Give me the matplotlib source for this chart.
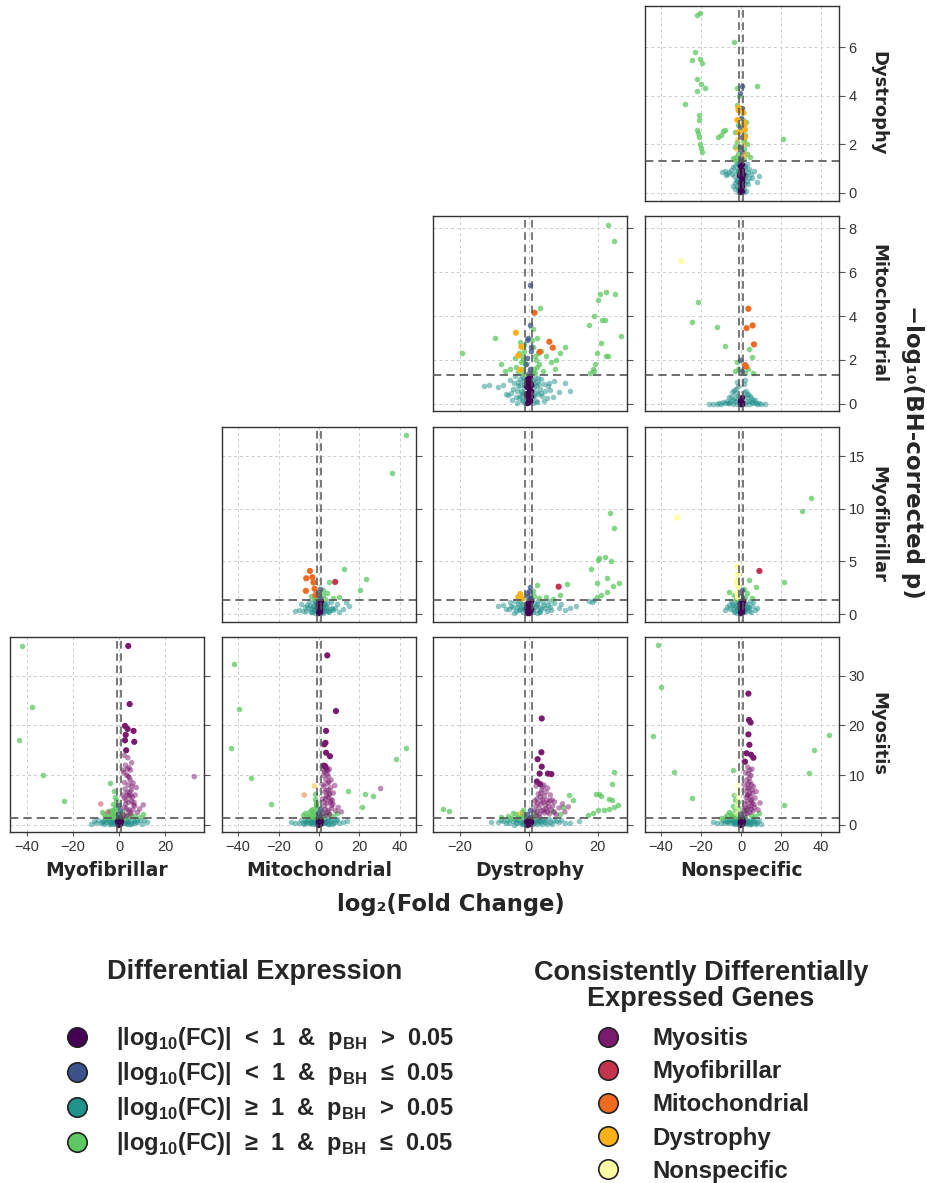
import numpy as np
import matplotlib
matplotlib.use('Agg')
import matplotlib.pyplot as plt
from matplotlib.lines import Line2D

W, H = 928, 1183

# significance / fold-change cut-offs
P_CUT = -np.log10(0.05)
FC_CUT = 1.0

row_names = ['Dystrophy', 'Mitochondrial', 'Myofibrillar', 'Myositis']
col_names = ['Myofibrillar', 'Mitochondrial', 'Dystrophy', 'Nonspecific']

de_labels = [
    r'|log$_\mathbf{10}$(FC)|  <  1  &  p$_\mathbf{BH}$  >  0.05',
    r'|log$_\mathbf{10}$(FC)|  <  1  &  p$_\mathbf{BH}$  ≤  0.05',
    r'|log$_\mathbf{10}$(FC)|  ≥  1  &  p$_\mathbf{BH}$  >  0.05',
    r'|log$_\mathbf{10}$(FC)|  ≥  1  &  p$_\mathbf{BH}$  ≤  0.05',
]
de_colors = ['#440154', '#3b528b', '#21918c', '#5ec962']

group_names = ['Myositis', 'Myofibrillar', 'Mitochondrial', 'Dystrophy', 'Nonspecific']
group_colors = ['#7b1b6f', '#c4344f', '#ef6b22', '#fbb21a', '#fcffa4']

# ---- genes per comparison: (log2 FC, -log10 p_BH) ----
dys_non = [
    (-0.5, 0.05), (0.3, 0.1), (-0.2, 0.2), (0.6, 0.3), (-0.7, 0.4), (0.1, 0.5), (0.4, 0.6), (-0.4, 0.7),
    (0.8, 0.8), (-0.1, 0.9), (0.2, 1.0), (-0.6, 1.1), (0.5, 1.2), (-0.3, 0.15), (0.0, 0.35), (0.7, 0.55),
    (-0.8, 0.75), (0.3, 0.95), (0.0, 0.25), (-0.2, 0.65), (0.1, 1.15), (0.5, 0.45), (-0.5, 0.85),
    (-2.5, 0.9), (2.1, 1.1), (-3.4, 0.7), (3.0, 0.5), (-1.8, 0.3), (1.6, 0.2), (-4.5, 0.8), (4.2, 1.0),
    (-6.0, 0.85), (5.5, 0.6), (-7.5, 0.75), (8.2, 0.45), (-2.2, 1.25), (2.8, 1.2), (-3.8, 1.05), (3.6, 0.35),
    (-5.2, 0.95), (6.3, 0.9), (-1.4, 0.6), (1.3, 0.8), (-9.5, 0.85), (9.0, 0.7), (-2.9, 0.15), (2.4, 0.1),
    (-1.2, 1.15), (1.9, 0.4), (-8.0, 0.9), (-6.8, 0.8), (-1.6, 0.05), (1.5, 0.02), (-1.3, 0.95),
    (1.4, 1.05), (-2.0, 0.5), (2.2, 0.7), (-1.5, 1.25), (1.7, 0.6), (-3.0, 0.4), (3.3, 0.85),
    (-1.1, 0.45), (1.1, 0.65), (-1.7, 0.85), (1.8, 1.0), (-2.4, 0.55), (2.5, 0.75), (-3.1, 1.1),
    (3.8, 0.6), (-4.0, 0.3), (4.8, 0.8), (-1.3, 0.2), (1.2, 0.35),
    (0.2, 1.5), (-0.3, 1.9), (0.5, 2.3), (-0.6, 2.7), (0.1, 3.1), (0.4, 3.5), (-0.2, 1.4), (0.7, 1.7),
    (-0.5, 4.1), (0.3, 4.4),
    (-1.5, 1.6), (1.5, 1.8), (-2.0, 2.1), (2.2, 2.4), (-1.3, 2.8), (1.2, 3.0), (-2.5, 1.5), (2.8, 1.6),
    (-1.8, 3.6), (1.6, 2.2), (-3.0, 1.9), (3.2, 2.0), (-2.2, 4.3), (-4.0, 1.45), (4.5, 1.5), (-1.1, 4.0),
    (1.4, 1.4), (-1.6, 2.5), (-3.2, 2.5), (-2.8, 1.35), (2.6, 2.9), (-1.2, 1.9), (1.3, 2.1),
    (-22, 7.3), (-20.5, 7.4), (-23, 5.8), (-24.5, 5.45), (-20.5, 5.5), (-19.5, 5.35), (-22, 4.7),
    (-20, 4.5), (-22, 4.2), (-18, 4.3), (-28, 3.65), (-21, 3.2), (-21, 3.0), (-22, 2.6), (-21.5, 2.45),
    (-21, 2.3), (-20.5, 2.0), (-20, 1.85), (-19.5, 1.7), (-11.5, 2.3), (-10, 2.4), (-9, 2.55), (-8, 2.6),
    (-3.5, 6.2), (8, 4.4), (21, 2.2),
]
dys_non_hits = [
    (1.5, 2.9, 'Dystrophy'), (2.0, 2.6, 'Dystrophy'), (-1.2, 3.4, 'Dystrophy'), (-1.8, 3.0, 'Dystrophy'),
    (1.8, 2.0, 'Dystrophy'), (2.3, 1.6, 'Dystrophy'), (-1.5, 2.2, 'Dystrophy'), (1.2, 3.3, 'Dystrophy'),
    (-2.0, 1.8, 'Dystrophy'), (2.0, 2.3, 'Dystrophy'), (-1.1, 2.5, 'Dystrophy'), (1.3, 1.5, 'Dystrophy'),
    (1.6, 2.8, 'Dystrophy'), (-1.3, 3.5, 'Dystrophy'),
]

mit_dys = [
    (-0.5, 0.05), (0.3, 0.15), (-0.2, 0.25), (0.6, 0.35), (-0.7, 0.45), (0.1, 0.55), (0.4, 0.65), (-0.4, 0.75),
    (0.8, 0.85), (-0.1, 0.95), (0.2, 1.05), (-0.6, 1.15), (0.5, 1.25), (-0.3, 0.2), (0.0, 0.4), (0.7, 0.6),
    (-0.8, 0.8), (0.3, 1.0), (0.0, 0.1), (-0.2, 1.2), (-0.6, 0.5), (0.6, 0.9), (-0.1, 0.3), (0.2, 0.7),
    (-0.4, 1.0), (0.4, 0.2),
    (-1.5, 0.2), (1.4, 0.4), (-2.2, 0.6), (2.0, 0.8), (-3.0, 1.0), (2.8, 1.2), (-3.8, 0.3), (3.6, 0.5),
    (-4.5, 0.7), (4.4, 0.9), (-5.5, 1.1), (5.2, 0.25), (-6.5, 0.45), (6.2, 0.65), (-7.5, 0.85), (7.4, 1.05),
    (-9.0, 0.75), (8.8, 0.55), (-11.5, 0.85), (10.5, 0.95), (-2.6, 1.15), (2.5, 0.1), (-1.8, 0.15), (1.7, 0.35),
    (-3.4, 0.05), (3.2, 0.7), (-4.0, 1.25), (4.8, 0.6), (-6.0, 0.4), (7.0, 0.3), (-13.0, 0.8), (12.0, 0.6),
    (-1.2, 0.9), (1.2, 1.1), (-2.0, 1.25), (2.3, 1.0), (-1.6, 0.55), (1.6, 0.75), (-2.4, 0.35),
    (2.1, 0.15), (-3.2, 0.8), (3.5, 1.15), (-1.3, 1.2), (1.3, 0.05), (-4.8, 0.2), (5.8, 0.95),
    (-1.1, 0.3), (1.1, 0.6), (-1.4, 0.75), (1.5, 0.95), (-2.0, 0.45), (2.2, 0.55), (-2.7, 0.25),
    (2.9, 0.9), (-3.5, 0.6), (3.9, 0.35), (-4.2, 0.95), (4.6, 0.15), (-5.0, 0.5), (5.6, 0.8),
    (-1.7, 1.05), (1.9, 1.2), (-2.4, 0.85), (2.6, 0.45), (-1.0, 0.05), (1.0, 0.25),
    (0.3, 1.6), (-0.4, 2.1), (0.6, 2.6), (-0.2, 3.0), (0.5, 5.4), (0.1, 1.4), (-0.7, 1.8), (0.8, 2.4),
    (0.4, 3.6), (-0.5, 2.9),
    (-1.5, 1.5), (1.6, 1.6), (-2.2, 1.9), (2.1, 2.0), (-3.0, 1.45), (3.0, 1.8), (-1.3, 2.4), (1.4, 2.6),
    (-4.0, 2.1), (4.2, 1.5), (-5.5, 1.6), (5.0, 2.2), (-2.6, 2.8), (2.3, 3.0), (1.2, 3.4), (-1.1, 1.8),
    (6.5, 1.9), (-6.8, 1.5), (8.0, 2.0), (10.4, 2.6), (3.2, 4.35), (7.5, 1.6), (9.0, 2.3), (-8.0, 1.8),
    (-9.6, 3.0), (-19.2, 2.33), (-1.8, 2.2), (1.9, 1.4), (2.6, 2.3), (-3.6, 1.7),
    (-1.2, 1.35), (1.3, 1.45), (-2.0, 1.6), (2.4, 1.7), (-1.6, 2.0), (1.8, 2.2), (-2.9, 2.3), (3.5, 2.4),
    (-1.4, 2.7), (1.1, 2.9),
    (23.1, 8.14), (24.6, 7.4), (22.4, 5.1), (20.7, 4.98), (25.1, 4.98), (20.0, 4.72), (19.0, 4.0),
    (17.4, 3.6), (21.4, 3.8), (22.1, 3.8), (26.8, 3.09), (20.9, 2.79), (19.95, 2.3), (22.4, 2.16),
    (23.1, 2.2), (19.3, 1.8), (18.6, 1.6), (17.8, 1.39), (18.9, 1.5),
]
mit_dys_hits = [
    (-3.7, 3.24, 'Dystrophy'), (-2.1, 2.6, 'Dystrophy'), (-3.0, 2.2, 'Dystrophy'), (-2.4, 1.55, 'Dystrophy'),
    (1.7, 4.15, 'Mitochondrial'), (6.0, 2.83, 'Mitochondrial'), (7.0, 2.56, 'Mitochondrial'),
    (3.2, 2.37, 'Mitochondrial'),
]

mit_non = [
    (-0.5, 0.0), (0.3, 0.02), (-0.2, 0.05), (0.6, 0.1), (0.0, 0.15), (-0.7, 0.2), (0.4, 0.3), (0.1, 0.0),
    (-0.3, 0.08),
    (-14, 0.0), (-12, 0.02), (-10, 0.0), (-8, 0.05), (-6, 0.03), (-4, 0.0), (-2, 0.02), (2, 0.01), (4, 0.0),
    (6, 0.03), (8, 0.02), (10, 0.0), (12, 0.01), (-5, 0.3), (-3, 0.5), (3, 0.4), (5, 0.25), (-7, 0.15),
    (7, 0.2), (-2.5, 0.7), (2.5, 0.6), (-4.5, 0.55), (4.5, 0.35), (-9, 0.1), (-1.5, 0.8), (1.5, 0.9),
    (-3.5, 0.65), (3.5, 0.45), (-6, 0.3), (6, 0.2), (-1.2, 0.1), (1.2, 0.05), (-16, 0.01), (-2, 1.0),
    (2, 1.1), (-3, 0.25), (1.8, 0.3), (-11, 0.05), (9, 0.04), (-5.5, 0.1), (5.5, 0.08), (-2.8, 0.12),
    (2.8, 0.15), (-1.6, 0.35), (1.4, 0.55), (-4.0, 0.2), (3.8, 0.12), (-6.5, 0.06), (7.5, 0.05),
    (-21.3, 4.65), (-24.7, 3.74), (-11.8, 3.5), (-8.2, 2.65), (-2.0, 1.9), (5.3, 2.15), (6.2, 1.4),
    (-3, 1.5), (3.5, 1.6), (4.2, 2.5), (-1.5, 1.6), (2.2, 1.4),
    (0.3, 1.5), (-0.4, 2.0),
]
mit_non_hits = [
    (-29.7, 6.5, 'Nonspecific'),
    (3.7, 4.33, 'Mitochondrial'), (2.8, 3.45, 'Mitochondrial'), (5.8, 3.57, 'Mitochondrial'),
    (6.5, 2.71, 'Mitochondrial'), (2.0, 1.77, 'Mitochondrial'), (2.6, 1.7, 'Mitochondrial'),
]

myf_mit = [
    (-0.5, 0.05), (0.3, 0.15), (-0.2, 0.3), (0.6, 0.45), (-0.7, 0.6), (0.1, 0.75), (0.4, 0.9), (-0.4, 1.05),
    (0.8, 1.2), (-0.1, 0.2), (0.2, 0.5), (-0.6, 0.8), (0.5, 1.1), (0.0, 0.4), (-0.3, 0.95),
    (-2, 0.1), (2, 0.3), (-4, 0.5), (4, 0.7), (-6, 0.9), (6, 1.1), (-8, 0.3), (8, 0.6), (-10, 0.4),
    (10, 0.2), (-3, 0.8), (3, 1.0), (-5, 1.2), (5, 0.15), (-1.5, 0.6), (1.5, 0.9), (-7, 0.7), (7, 0.35),
    (12, 0.5), (15, 0.8), (-12, 0.25), (-2.5, 1.2), (2.5, 0.45), (-3.5, 0.2), (3.5, 0.55), (13.4, 1.1),
    (9, 1.0), (-9, 0.95), (1.2, 1.25), (-1.2, 0.35), (-4.5, 0.9), (4.5, 0.3), (-2.2, 0.5), (2.2, 0.75),
    (-6.5, 0.3), (6.5, 0.6), (-1.8, 1.1), (1.8, 0.1),
    (-1.1, 0.3), (1.1, 0.55), (-1.6, 0.85), (1.7, 0.7), (-2.3, 0.4), (2.4, 0.95), (-3.2, 0.65),
    (3.3, 0.25), (-4.2, 0.15), (4.1, 1.05), (-5.5, 0.55), (5.8, 0.45), (-1.3, 1.1), (1.4, 0.15),
    (0.3, 1.5), (-0.4, 1.9), (0.5, 2.4),
    (42.9, 17.0), (36.2, 13.4), (12.3, 4.3), (23.4, 3.3), (20.3, 2.25), (5.1, 3.0), (-1.5, 1.6),
    (1.8, 1.8), (-2.5, 1.5), (3.0, 1.45), (-1.2, 2.0), (2.2, 2.3), (7.0, 1.5), (-4.0, 1.7), (10, 1.6),
    (4, 2.0),
]
myf_mit_hits = [
    (8.0, 3.05, 'Myofibrillar'),
    (-4.5, 4.1, 'Mitochondrial'), (-6.3, 3.4, 'Mitochondrial'), (-3.3, 3.5, 'Mitochondrial'),
    (-6.5, 2.2, 'Mitochondrial'), (-2.7, 3.0, 'Mitochondrial'), (-2.2, 2.4, 'Mitochondrial'),
    (-1.8, 1.8, 'Mitochondrial'),
]

myf_dys = [
    (-0.5, 0.05), (0.3, 0.15), (-0.2, 0.3), (0.6, 0.45), (-0.7, 0.6), (0.1, 0.75), (0.4, 0.9), (-0.4, 1.05),
    (0.8, 1.2), (-0.1, 0.2), (0.2, 0.5), (-0.6, 0.8), (0.5, 1.1), (0.0, 0.4), (-0.3, 0.95), (0.2, 0.1),
    (-1.5, 0.2), (1.4, 0.4), (-2.2, 0.6), (2.0, 0.8), (-3.0, 1.0), (2.8, 1.2), (-3.8, 0.3), (3.6, 0.5),
    (-4.5, 0.7), (4.4, 0.9), (-5.5, 1.1), (5.2, 0.25), (-6.5, 0.45), (6.2, 0.65), (-7.5, 0.85), (7.4, 1.05),
    (-9.0, 0.75), (8.8, 0.55), (10.5, 0.35), (12.0, 0.6), (13.8, 0.8), (-2.6, 1.15), (2.5, 0.1),
    (-1.8, 0.95), (1.7, 1.05), (3.2, 0.7), (-4.0, 1.25), (4.8, 0.6), (9.5, 1.0), (6.0, 1.2),
    (-1.3, 0.5), (1.3, 0.2), (-2.9, 0.4), (3.0, 0.3), (-5.0, 0.8), (5.5, 0.9),
    (-1.1, 0.35), (1.1, 0.6), (-1.6, 0.8), (1.8, 0.65), (-2.4, 0.45), (2.3, 1.0), (-3.3, 0.7),
    (3.4, 0.2), (-4.1, 0.1), (4.2, 1.1), (-5.8, 0.5), (6.5, 0.4),
    (0.3, 1.5), (-0.4, 2.0), (0.5, 2.6), (-0.2, 1.7), (0.6, 1.4), (0.2, 2.2),
    (2.5, 2.8), (11.1, 2.9), (9.1, 1.8), (-1.5, 1.5), (1.6, 1.7), (-2.5, 1.4), (3.0, 1.5), (1.3, 2.2),
    (5, 1.6), (7, 1.4),
    (23.7, 9.6), (24.6, 8.2), (20.4, 5.3), (22.0, 5.4), (20.1, 5.1), (23.9, 5.0), (18.0, 4.25),
    (22.6, 3.4), (19.7, 2.95), (26.1, 2.95), (24.3, 2.7), (22.8, 2.1), (21.0, 1.85), (19.7, 1.6),
    (19.0, 1.3), (18.4, 1.15), (17.5, 1.2),
]
myf_dys_hits = [
    (8.7, 2.6, 'Myofibrillar'),
    (-2.4, 1.9, 'Dystrophy'), (-3.0, 1.6, 'Dystrophy'), (-2.0, 1.5, 'Dystrophy'),
]

myf_non = [
    (-0.5, 0.05), (0.3, 0.15), (-0.2, 0.3), (0.6, 0.45), (-0.7, 0.6), (0.1, 0.75), (0.4, 0.9), (-0.4, 1.05),
    (0.8, 1.2), (-0.1, 0.2), (0.2, 0.5), (-0.6, 0.8), (0.5, 1.1), (0.0, 0.4), (-0.3, 0.95),
    (-2, 0.1), (2, 0.3), (-4, 0.5), (4, 0.7), (-6, 0.9), (6, 1.1), (-3, 0.8), (3, 1.0), (-5, 1.2),
    (5, 0.15), (-1.5, 0.6), (1.5, 0.9), (-7, 0.7), (7, 0.35), (-2.5, 1.2), (2.5, 0.45), (-3.5, 0.2),
    (3.5, 0.55), (8, 0.6), (-8, 0.4), (1.2, 1.25), (-1.2, 0.35), (-4.5, 1.0), (4.5, 1.2),
    (-1.8, 0.9), (1.8, 0.5), (-2.8, 0.3), (2.8, 0.7),
    (-1.1, 0.25), (1.1, 0.6), (-1.6, 1.1), (1.6, 0.2), (-2.2, 0.55), (2.2, 0.95), (-3.8, 0.85),
    (3.9, 0.3), (-5.5, 0.45), (5.6, 0.75),
    (0.3, 1.5), (-0.4, 1.9), (0.5, 2.3), (0.2, 1.7),
    (35.2, 11.05), (30.6, 9.8), (21.4, 3.0), (-6.2, 2.1), (4.1, 3.2), (7.6, 2.6), (2.0, 1.6), (-1.5, 1.5),
    (3.0, 2.0), (-2.5, 1.4), (1.4, 2.4), (-3.5, 1.8), (5.5, 1.5),
]
myf_non_hits = [
    (-32, 9.2, 'Nonspecific'), (-1.8, 4.5, 'Nonspecific'), (-1.6, 3.8, 'Nonspecific'),
    (-2.0, 3.2, 'Nonspecific'), (-1.4, 2.6, 'Nonspecific'), (-1.9, 2.0, 'Nonspecific'),
    (-1.5, 1.6, 'Nonspecific'), (-2.2, 2.9, 'Nonspecific'),
    (9.2, 4.1, 'Myofibrillar'),
]

myo_myf = [
    (-0.5, 0.05), (0.3, 0.2), (-0.2, 0.4), (0.6, 0.6), (-0.7, 0.8), (0.1, 1.0), (0.4, 1.2), (-0.4, 0.3),
    (0.8, 0.7), (0.0, 0.9), (-0.3, 1.1), (0.2, 0.5),
    (-2, 0.1), (2, 0.3), (-4, 0.5), (4, 0.7), (-6, 0.9), (6, 1.1), (-8, 0.3), (8, 0.6), (-10, 0.4),
    (10, 0.2), (-3, 0.8), (3, 1.0), (-5, 1.2), (5, 0.15), (-1.5, 0.6), (1.5, 0.9), (-7, 0.7), (7, 0.35),
    (12, 0.5), (-12, 0.25), (-2.5, 1.2), (2.5, 0.45), (-3.5, 0.2), (3.5, 0.55), (9, 1.0), (-9, 0.95),
    (1.2, 1.25), (-1.2, 0.35), (11, 0.9), (-11, 0.7), (-4.5, 1.0), (4.5, 0.25), (-6.5, 0.2), (6.5, 0.8),
    (-1.1, 0.3), (1.1, 0.55), (-1.6, 0.85), (1.7, 0.7), (-2.3, 0.4), (2.4, 0.95), (-3.2, 0.65),
    (3.3, 0.25), (-4.2, 0.15), (4.1, 1.05), (-5.5, 0.55), (5.8, 0.45), (-7.5, 0.5), (7.8, 0.9),
    (0.3, 1.6), (-0.4, 2.2), (0.5, 3.0), (-0.2, 4.0),
    (-42.1, 36.0), (-37.5, 23.7), (-43.3, 17.0), (-32.9, 10.0), (-23.8, 4.8), (-4.0, 8.5), (-2, 2),
    (-3, 3), (-1.5, 4), (-4, 1.8), (-5, 1.5), (-2.5, 2.8), (-1.3, 1.6), (-3.5, 2.4), (-6, 1.6), (2, 1.5),
    (5, 2), (7, 1.8), (9, 1.5), (-1.8, 5.5), (-1.2, 3.2), (-2.2, 6.8), (1.5, 2.5), (3.5, 1.7),
    (10.5, 2.2), (-7.5, 2.6), (-1.4, 1.8), (-2.2, 2.4), (-3.1, 1.5), (-1.8, 3.4), (-2.8, 4.2),
    (-4.5, 2.8), (1.8, 1.9), (2.6, 1.4), (-6.5, 2.1), (-1.2, 5.0),
]
myo_myf_hits = [
    (-7.9, 4.2, 'Myofibrillar'), (-4.8, 2.55, 'Myofibrillar'),
    (4.0, 36.0, 'Myositis'), (4.6, 24.3, 'Myositis'), (2.6, 19.9, 'Myositis'), (3.7, 19.3, 'Myositis'),
    (6.3, 18.9, 'Myositis'), (2.9, 18.1, 'Myositis'), (2.6, 17.0, 'Myositis'), (6.6, 16.7, 'Myositis'),
    (32.6, 9.7, 'Myositis'),
    (2.0, 2.0, 'Myositis'), (2.5, 3.5, 'Myositis'), (3.0, 5.0, 'Myositis'), (3.5, 6.5, 'Myositis'),
    (4.0, 8.0, 'Myositis'), (4.5, 9.5, 'Myositis'), (5.0, 11.0, 'Myositis'), (5.5, 12.5, 'Myositis'),
    (6.0, 3.0, 'Myositis'), (6.5, 4.5, 'Myositis'), (7.0, 6.0, 'Myositis'), (7.5, 7.5, 'Myositis'),
    (8.0, 2.5, 'Myositis'), (2.2, 14.0, 'Myositis'), (2.8, 12.0, 'Myositis'), (3.3, 10.0, 'Myositis'),
    (3.8, 13.5, 'Myositis'), (4.3, 11.5, 'Myositis'), (4.8, 9.0, 'Myositis'), (5.3, 7.0, 'Myositis'),
    (5.8, 5.5, 'Myositis'), (6.3, 4.0, 'Myositis'), (2.4, 8.5, 'Myositis'), (3.1, 15.0, 'Myositis'),
    (3.6, 6.0, 'Myositis'), (4.1, 4.5, 'Myositis'), (4.6, 3.0, 'Myositis'), (5.1, 2.2, 'Myositis'),
    (5.6, 7.8, 'Myositis'), (6.8, 3.8, 'Myositis'), (2.1, 10.5, 'Myositis'), (2.6, 7.2, 'Myositis'),
    (3.4, 1.8, 'Myositis'), (3.9, 9.8, 'Myositis'), (4.4, 5.8, 'Myositis'), (5.4, 4.8, 'Myositis'),
    (9.0, 3.2, 'Myositis'), (10.5, 4.0, 'Myositis'), (1.6, 6.0, 'Myositis'), (1.8, 11.0, 'Myositis'),
    (3.2, 3.2, 'Myositis'), (4.2, 2.6, 'Myositis'), (2.9, 4.2, 'Myositis'), (5.2, 5.9, 'Myositis'),
    (4.7, 6.6, 'Myositis'), (6.1, 8.4, 'Myositis'), (3.7, 11.2, 'Myositis'), (2.3, 5.4, 'Myositis'),
]

myo_mit = [
    (-0.5, 0.05), (0.3, 0.2), (-0.2, 0.4), (0.6, 0.6), (-0.7, 0.8), (0.1, 1.0), (0.4, 1.2), (-0.4, 0.3),
    (0.8, 0.7), (0.0, 0.9), (-0.3, 1.1), (0.2, 0.5),
    (-2, 0.2), (2, 0.4), (-4, 0.6), (4, 0.8), (-6, 1.0), (6, 1.2), (-8, 0.4), (8, 0.5), (-10, 0.3),
    (10, 0.3), (-3, 0.9), (3, 1.1), (-5, 1.2), (5, 0.2), (-1.5, 0.7), (1.5, 1.0), (-7, 0.8), (7, 0.45),
    (12, 0.6), (-12, 0.35), (-2.5, 1.25), (2.5, 0.55), (-3.5, 0.15), (3.5, 0.65), (9, 1.1), (-9, 0.9),
    (1.2, 1.2), (-1.2, 0.45), (14, 0.8), (-14, 0.6), (-4.5, 0.3), (4.5, 1.0), (-6.5, 0.6), (6.5, 0.15),
    (-1.1, 0.25), (1.1, 0.6), (-1.7, 0.95), (1.8, 0.35), (-2.4, 0.5), (2.3, 0.9), (-3.3, 0.55),
    (3.2, 0.3), (-4.1, 1.05), (4.3, 0.1), (-5.6, 0.45), (5.7, 0.75), (-7.6, 0.15), (8.2, 1.0),
    (0.3, 1.7), (-0.4, 2.4), (0.5, 3.2),
    (-41.9, 32.3), (-39.4, 23.3), (-43.7, 15.4), (-33.8, 9.5), (-23.8, 4.2), (43.1, 15.4), (38.0, 13.3),
    (26.9, 5.8), (22.6, 6.2), (21.4, 3.6), (14.5, 6.9),
    (-2, 2), (-3, 3.2), (-1.5, 4.5), (-4, 1.8), (-5, 1.5), (-2.5, 2.6), (-1.3, 1.6), (-3.5, 2.2),
    (-6, 1.7), (-8, 1.9), (2, 1.5), (5, 2.1), (7, 1.8), (-1.8, 5.2), (-1.2, 3.4), (1.6, 2.8), (9, 2.4),
    (-2.2, 6.2), (-1.4, 2.2), (-2.7, 1.5), (-3.8, 3.0), (-1.6, 3.9), (-4.8, 2.6), (2.4, 1.9),
    (-6.8, 2.4), (-1.3, 4.0),
]
myo_mit_hits = [
    (-7.3, 6.0, 'Mitochondrial'), (-2.3, 7.8, 'Dystrophy'),
    (4.1, 34.1, 'Myositis'), (8.4, 22.9, 'Myositis'), (3.5, 18.9, 'Myositis'), (3.2, 16.5, 'Myositis'),
    (2.6, 16.2, 'Myositis'), (3.5, 14.5, 'Myositis'), (5.4, 13.8, 'Myositis'), (2.4, 11.9, 'Myositis'),
    (30.5, 7.3, 'Myositis'),
    (2.1, 2.3, 'Myositis'), (2.7, 3.8, 'Myositis'), (3.2, 5.2, 'Myositis'), (3.6, 6.9, 'Myositis'),
    (4.2, 8.3, 'Myositis'), (4.7, 9.7, 'Myositis'), (5.1, 11.2, 'Myositis'), (3.0, 11.8, 'Myositis'),
    (6.2, 3.3, 'Myositis'), (6.6, 4.9, 'Myositis'), (7.1, 6.4, 'Myositis'), (7.8, 7.9, 'Myositis'),
    (8.3, 2.8, 'Myositis'), (2.4, 10.9, 'Myositis'), (2.9, 10.6, 'Myositis'), (3.4, 9.1, 'Myositis'),
    (3.9, 11.2, 'Myositis'), (4.4, 10.9, 'Myositis'), (4.9, 8.6, 'Myositis'), (5.4, 6.3, 'Myositis'),
    (5.9, 5.1, 'Myositis'), (6.4, 3.9, 'Myositis'), (2.5, 7.7, 'Myositis'), (3.3, 11.4, 'Myositis'),
    (3.7, 5.8, 'Myositis'), (4.1, 4.3, 'Myositis'), (4.6, 2.9, 'Myositis'), (5.2, 2.1, 'Myositis'),
    (5.7, 7.4, 'Myositis'), (6.9, 4.2, 'Myositis'), (2.2, 9.9, 'Myositis'), (2.8, 6.6, 'Myositis'),
    (3.5, 1.9, 'Myositis'), (4.0, 10.2, 'Myositis'), (4.5, 5.5, 'Myositis'), (5.5, 4.6, 'Myositis'),
    (9.5, 3.5, 'Myositis'), (11.0, 2.6, 'Myositis'), (1.7, 5.2, 'Myositis'), (1.9, 8.1, 'Myositis'),
    (3.1, 3.1, 'Myositis'), (4.3, 2.5, 'Myositis'), (2.6, 4.6, 'Myositis'), (5.0, 6.1, 'Myositis'),
    (4.8, 7.0, 'Myositis'), (6.0, 9.0, 'Myositis'), (3.8, 11.5, 'Myositis'),
]

myo_dys = [
    (-0.5, 0.05), (0.3, 0.2), (-0.2, 0.4), (0.6, 0.6), (-0.7, 0.8), (0.1, 1.0), (0.4, 1.2), (-0.4, 0.3),
    (0.8, 0.7), (0.0, 0.9), (-0.3, 1.1), (0.2, 0.5),
    (-1.5, 0.2), (1.4, 0.4), (-2.2, 0.6), (2.0, 0.8), (-3.0, 1.0), (2.8, 1.2), (-3.8, 0.3), (3.6, 0.5),
    (-4.5, 0.7), (4.4, 0.9), (-5.5, 1.1), (5.2, 0.25), (-6.5, 0.45), (6.2, 0.65), (-7.5, 0.85),
    (7.4, 1.05), (-9.0, 0.5), (8.8, 0.55), (10.5, 0.35), (12.0, 0.4), (-2.6, 1.15), (2.5, 0.1),
    (-1.8, 0.95), (1.7, 1.05), (3.2, 0.7), (-4.0, 1.25), (4.8, 0.6), (9.5, 1.0), (6.0, 1.2), (-11, 0.6),
    (14.5, 0.7), (-8, 1.0), (-1.3, 0.6), (1.2, 0.15), (-3.4, 0.9), (3.9, 0.2),
    (-1.1, 0.35), (1.1, 0.75), (-2.0, 0.15), (2.3, 0.5), (-2.9, 0.45), (3.0, 0.95), (-4.2, 0.05),
    (4.6, 1.1), (-5.8, 0.3), (6.8, 0.2), (-6.2, 0.95), (7.9, 0.8),
    (0.3, 1.6), (-0.4, 2.2), (0.5, 2.9),
    (24.6, 10.7), (24.1, 8.2), (20.4, 6.1), (20.9, 5.8), (19.5, 6.2), (23.4, 5.2), (24.1, 5.0),
    (25.8, 3.9), (24.8, 3.5), (23.4, 3.2), (21.8, 2.9), (20.0, 3.0), (18.6, 2.3), (17.1, 2.0),
    (12.8, 4.9), (11.6, 6.0), (-24.9, 3.2), (-23.2, 2.8),
    (-2, 2), (-3, 1.6), (-4.5, 2.4), (-1.5, 3.0), (-6, 1.8), (2, 1.7), (1.5, 2.5), (-2.5, 1.4), (-8, 1.5),
    (9, 2.2), (10, 3.5), (7, 2.8), (-1.3, 1.9), (-3.6, 2.2), (-5.0, 1.4), (-1.9, 2.6), (1.3, 1.5),
]
myo_dys_hits = [
    (-2.4, 2.3, 'Dystrophy'),
    (3.8, 21.4, 'Myositis'), (3.7, 14.6, 'Myositis'), (2.6, 13.2, 'Myositis'), (3.8, 11.7, 'Myositis'),
    (3.2, 10.3, 'Myositis'), (5.6, 10.3, 'Myositis'), (6.6, 10.2, 'Myositis'), (2.4, 8.7, 'Myositis'),
    (2.0, 1.8, 'Myositis'), (2.5, 2.6, 'Myositis'), (3.0, 3.4, 'Myositis'), (3.5, 4.2, 'Myositis'),
    (4.0, 5.0, 'Myositis'), (4.5, 5.8, 'Myositis'), (5.0, 6.6, 'Myositis'), (5.5, 7.4, 'Myositis'),
    (6.0, 2.2, 'Myositis'), (6.5, 3.0, 'Myositis'), (7.0, 3.8, 'Myositis'), (7.5, 4.6, 'Myositis'),
    (8.0, 2.0, 'Myositis'), (2.2, 7.8, 'Myositis'), (2.8, 6.2, 'Myositis'), (3.3, 8.2, 'Myositis'),
    (3.8, 7.0, 'Myositis'), (4.3, 3.0, 'Myositis'), (4.8, 4.0, 'Myositis'), (5.3, 5.0, 'Myositis'),
    (5.8, 3.6, 'Myositis'), (6.3, 6.0, 'Myositis'), (2.4, 5.2, 'Myositis'), (3.1, 2.2, 'Myositis'),
    (3.6, 6.4, 'Myositis'), (4.1, 7.6, 'Myositis'), (4.6, 2.4, 'Myositis'), (5.1, 3.2, 'Myositis'),
    (5.6, 4.4, 'Myositis'), (6.8, 5.0, 'Myositis'), (2.1, 3.8, 'Myositis'), (2.6, 4.4, 'Myositis'),
    (3.4, 5.6, 'Myositis'), (3.9, 2.8, 'Myositis'), (4.4, 8.0, 'Myositis'), (5.4, 2.6, 'Myositis'),
    (8.8, 3.4, 'Myositis'), (9.8, 4.2, 'Myositis'), (10.5, 2.6, 'Myositis'), (7.5, 2.5, 'Myositis'),
    (1.6, 2.9, 'Myositis'), (1.8, 4.8, 'Myositis'), (3.2, 1.6, 'Myositis'), (4.2, 4.6, 'Myositis'),
    (6.2, 4.8, 'Myositis'), (11.5, 3.6, 'Myositis'),
]

myo_non = [
    (-0.5, 0.05), (0.3, 0.2), (-0.2, 0.4), (0.6, 0.6), (-0.7, 0.8), (0.1, 1.0), (0.4, 1.2), (-0.4, 0.3),
    (0.8, 0.7), (0.0, 0.9), (-0.3, 1.1), (0.2, 0.5),
    (-2, 0.15), (2, 0.35), (-4, 0.55), (4, 0.75), (-6, 0.95), (6, 1.15), (-8, 0.35), (8, 0.65),
    (-10, 0.45), (10, 0.25), (-3, 0.85), (3, 1.05), (-5, 1.2), (5, 0.2), (-1.5, 0.65), (1.5, 0.95),
    (-7, 0.75), (7, 0.4), (-12, 0.3), (-2.5, 1.2), (2.5, 0.5), (-3.5, 0.25), (3.5, 0.6), (9, 1.05),
    (-9, 1.0), (1.2, 1.25), (-1.2, 0.4), (-14, 0.6), (-4.5, 0.9), (4.5, 0.1), (-6.5, 0.5), (6.5, 0.7),
    (-1.1, 0.2), (1.1, 0.5), (-1.7, 1.0), (1.8, 0.3), (-2.3, 0.6), (2.4, 0.85), (-3.3, 0.4),
    (3.2, 0.15), (-4.1, 1.1), (4.3, 0.45), (-5.6, 0.3), (5.7, 0.9), (-7.8, 0.7), (7.7, 0.1),
    (0.3, 1.6), (-0.4, 2.3),
    (-41.7, 36.1), (-40.0, 27.7), (-43.8, 17.8), (-33.7, 10.7), (-24.5, 5.3), (44.0, 18.0), (36.3, 15.1),
    (34.0, 10.4), (21.5, 4.0),
    (-2, 2), (-3, 3), (-1.5, 4.5), (-4, 1.8), (-5, 1.5), (-6, 2.5), (-8, 1.6), (-10, 1.4), (-3.5, 6),
    (-4, 11), (2, 1.5), (5, 2), (7, 1.8), (9, 2.4), (-1.3, 2.6), (1.5, 3), (-2.6, 1.6), (-3.9, 3.8),
    (-1.4, 3.4), (-5.2, 2.2), (-7.0, 2.0), (-2.8, 5.0),
]
myo_non_hits = [
    (-1.8, 8.0, 'Nonspecific'), (-1.5, 7.0, 'Nonspecific'), (-2.0, 6.0, 'Nonspecific'),
    (-1.3, 5.2, 'Nonspecific'), (-1.7, 4.4, 'Nonspecific'), (-2.2, 3.6, 'Nonspecific'),
    (-1.4, 2.8, 'Nonspecific'), (-1.9, 2.2, 'Nonspecific'),
    (3.7, 26.4, 'Myositis'), (4.0, 21.1, 'Myositis'), (4.8, 20.6, 'Myositis'), (3.7, 18.2, 'Myositis'),
    (4.2, 16.1, 'Myositis'), (2.8, 14.4, 'Myositis'), (5.0, 14.1, 'Myositis'), (6.2, 13.5, 'Myositis'),
    (2.0, 12.7, 'Myositis'),
    (2.0, 2.1, 'Myositis'), (2.5, 3.4, 'Myositis'), (3.0, 4.7, 'Myositis'), (3.5, 6.0, 'Myositis'),
    (4.0, 7.3, 'Myositis'), (4.5, 8.6, 'Myositis'), (5.0, 9.9, 'Myositis'), (5.5, 11.2, 'Myositis'),
    (6.0, 2.8, 'Myositis'), (6.5, 4.1, 'Myositis'), (7.0, 5.4, 'Myositis'), (7.5, 6.7, 'Myositis'),
    (2.2, 10.5, 'Myositis'), (2.8, 9.0, 'Myositis'), (3.3, 11.6, 'Myositis'), (3.8, 10.3, 'Myositis'),
    (4.3, 2.5, 'Myositis'), (4.8, 3.8, 'Myositis'), (5.3, 5.0, 'Myositis'), (5.8, 6.4, 'Myositis'),
    (6.3, 7.7, 'Myositis'), (2.4, 6.8, 'Myositis'), (3.1, 2.3, 'Myositis'), (3.6, 8.2, 'Myositis'),
    (4.1, 9.4, 'Myositis'), (4.6, 5.6, 'Myositis'), (5.1, 3.1, 'Myositis'), (5.6, 4.4, 'Myositis'),
    (6.8, 3.5, 'Myositis'), (2.1, 4.2, 'Myositis'), (2.6, 5.5, 'Myositis'), (3.4, 7.4, 'Myositis'),
    (3.9, 3.6, 'Myositis'), (4.4, 11.0, 'Myositis'), (5.4, 7.0, 'Myositis'), (8.5, 3.0, 'Myositis'),
    (9.5, 4.4, 'Myositis'), (1.6, 3.0, 'Myositis'), (1.8, 8.0, 'Myositis'), (3.2, 5.9, 'Myositis'),
    (4.2, 6.3, 'Myositis'), (2.9, 3.0, 'Myositis'), (5.2, 8.1, 'Myositis'), (4.7, 4.8, 'Myositis'),
]

# (row, col) -> genes, consistent hits
panels = {
    (0, 3): (dys_non, dys_non_hits),
    (1, 2): (mit_dys, mit_dys_hits),
    (1, 3): (mit_non, mit_non_hits),
    (2, 1): (myf_mit, myf_mit_hits),
    (2, 2): (myf_dys, myf_dys_hits),
    (2, 3): (myf_non, myf_non_hits),
    (3, 0): (myo_myf, myo_myf_hits),
    (3, 1): (myo_mit, myo_mit_hits),
    (3, 2): (myo_dys, myo_dys_hits),
    (3, 3): (myo_non, myo_non_hits),
}

# ---- layout (pixels) ----
col_left = [10, 222, 433, 645]
row_top = [6, 216, 427, 637]
PW, PH = 194, 195
col_xlim = [(-47.2, 36.8), (-48, 48), (-27.7, 28.5), (-48, 49)]
col_xticks = [[-40, -20, 0, 20], [-40, -20, 0, 20, 40], [-20, 0, 20], [-40, -20, 0, 20, 40]]
row_ylim = [(-0.33, 7.69), (-0.32, 8.55), (-0.76, 17.8), (-1.45, 37.8)]
row_yticks = [[0, 2, 4, 6], [0, 2, 4, 6, 8], [0, 5, 10, 15], [0, 10, 20, 30]]

LEG_FONT = ['Liberation Sans', 'DejaVu Sans']
plt.rcParams['font.family'] = LEG_FONT
plt.rcParams['mathtext.fontset'] = 'custom'
plt.rcParams['mathtext.rm'] = 'Liberation Sans'
plt.rcParams['mathtext.bf'] = 'Liberation Sans:bold'

TXT = '#262626'
fig = plt.figure(figsize=(W / 100, H / 100), dpi=100)


def rect(left, top, w, h):
    return [left / W, 1 - (top + h) / H, w / W, h / H]


de_alpha = [0.95, 0.75, 0.5, 0.75]
de_order = [2, 3, 1, 0]
gcol = dict(zip(group_names, group_colors))

for (r, c), (genes, hits) in panels.items():
    ax = fig.add_axes(rect(col_left[c], row_top[r], PW, PH))
    fc, p = np.array(genes, dtype=float).T
    cls = 2 * (np.abs(fc) >= FC_CUT) + (p >= P_CUT)
    for k in de_order:
        m = cls == k
        ax.scatter(fc[m], p[m], s=16, color=de_colors[k], alpha=de_alpha[k],
                   linewidths=0, zorder=2)

    hx = np.array([h[0] for h in hits], dtype=float)
    hy = np.array([h[1] for h in hits], dtype=float)
    hc = [gcol[h[2]] for h in hits]
    rank = np.argsort(np.argsort(-hy))
    strong = rank < 9
    for sel, a, s in [(~strong, 0.5, 16), (strong, 1.0, 20)]:
        idx = np.where(sel)[0]
        ax.scatter(hx[idx], hy[idx], s=s, color=[hc[i] for i in idx], alpha=a,
                   linewidths=0, zorder=3)

    ax.axhline(P_CUT, color='#555555', ls=(0, (5, 3)), lw=1.2, zorder=5)
    for v in (-FC_CUT, FC_CUT):
        ax.axvline(v, color='#555555', ls=(0, (5, 3)), lw=1.1, zorder=5)

    ax.set_xlim(*col_xlim[c])
    ax.set_ylim(*row_ylim[r])
    ax.set_xticks(col_xticks[c])
    ax.set_yticks(row_yticks[r])
    ax.grid(True, color='#cccccc', ls=(0, (3, 3)), lw=0.7)
    ax.set_axisbelow(True)
    for sp in ax.spines.values():
        sp.set_color('#333333')
        sp.set_linewidth(1.0)

    ax.yaxis.tick_right()
    ax.tick_params(axis='y', direction='out', length=4, width=0.8, color='#555555',
                   labelsize=10.5, labelcolor='#333333', labelright=(c == 3), pad=3)
    if r == 3:
        ax.tick_params(axis='x', direction='out', length=3, width=0.8, color='#555555',
                       labelsize=10.5, labelcolor='#333333', pad=3)
    else:
        ax.tick_params(axis='x', length=0, labelbottom=False)

# row / column labels
for r, name in enumerate(row_names):
    fig.text(878 / W, 1 - (row_top[r] + PH / 2) / H, name, rotation=270, ha='center', va='center',
             fontsize=13, fontweight='bold', family='DejaVu Sans', color=TXT)
for c, name in enumerate(col_names):
    fig.text((col_left[c] + PW / 2) / W, 1 - 870 / H, name, ha='center', va='center',
             fontsize=13.5, fontweight='bold', family='DejaVu Sans', color=TXT)

fig.text(451 / W, 1 - 905 / H, 'log₂(Fold Change)', ha='center', va='center',
         fontsize=16.3, fontweight='bold', family='DejaVu Sans', color=TXT)
fig.text(913 / W, 1 - 452 / H, '−log₁₀(BH-corrected p)', rotation=270, ha='center', va='center',
         fontsize=16.5, fontweight='bold', family='DejaVu Sans', color=TXT)

# legends
fig.text(255 / W, 1 - 972 / H, 'Differential Expression', ha='center', va='center',
         fontsize=19.5, fontweight='bold', family=LEG_FONT, color=TXT)
fig.text(701 / W, 1 - 986 / H, 'Consistently Differentially\nExpressed Genes', ha='center',
         va='center', fontsize=19.5, fontweight='bold', family=LEG_FONT,
         color=TXT, linespacing=1.03)

de_handles = [Line2D([], [], ls='', marker='o', markersize=14, markerfacecolor=col,
                     markeredgecolor='#222222', markeredgewidth=1.2) for col in de_colors]
leg1 = fig.legend(de_handles, de_labels, loc='upper left', bbox_to_anchor=(53 / W, 1 - 1025 / H),
                  frameon=False, handletextpad=0.67, labelspacing=0.34, borderpad=0,
                  borderaxespad=0, prop={'family': LEG_FONT, 'weight': 'bold', 'size': 17})
for t in leg1.get_texts():
    t.set_color(TXT)

grp_handles = [Line2D([], [], ls='', marker='o', markersize=14, markerfacecolor=col,
                      markeredgecolor='#222222', markeredgewidth=1.2) for col in group_colors]
leg2 = fig.legend(grp_handles, group_names, loc='upper left', bbox_to_anchor=(584 / W, 1 - 1027 / H),
                  frameon=False, handletextpad=0.83, labelspacing=0.425, borderpad=0,
                  borderaxespad=0, prop={'family': LEG_FONT, 'weight': 'bold', 'size': 17.3})
for t in leg2.get_texts():
    t.set_color(TXT)

fig.savefig('out.png', dpi=100, facecolor='white')
